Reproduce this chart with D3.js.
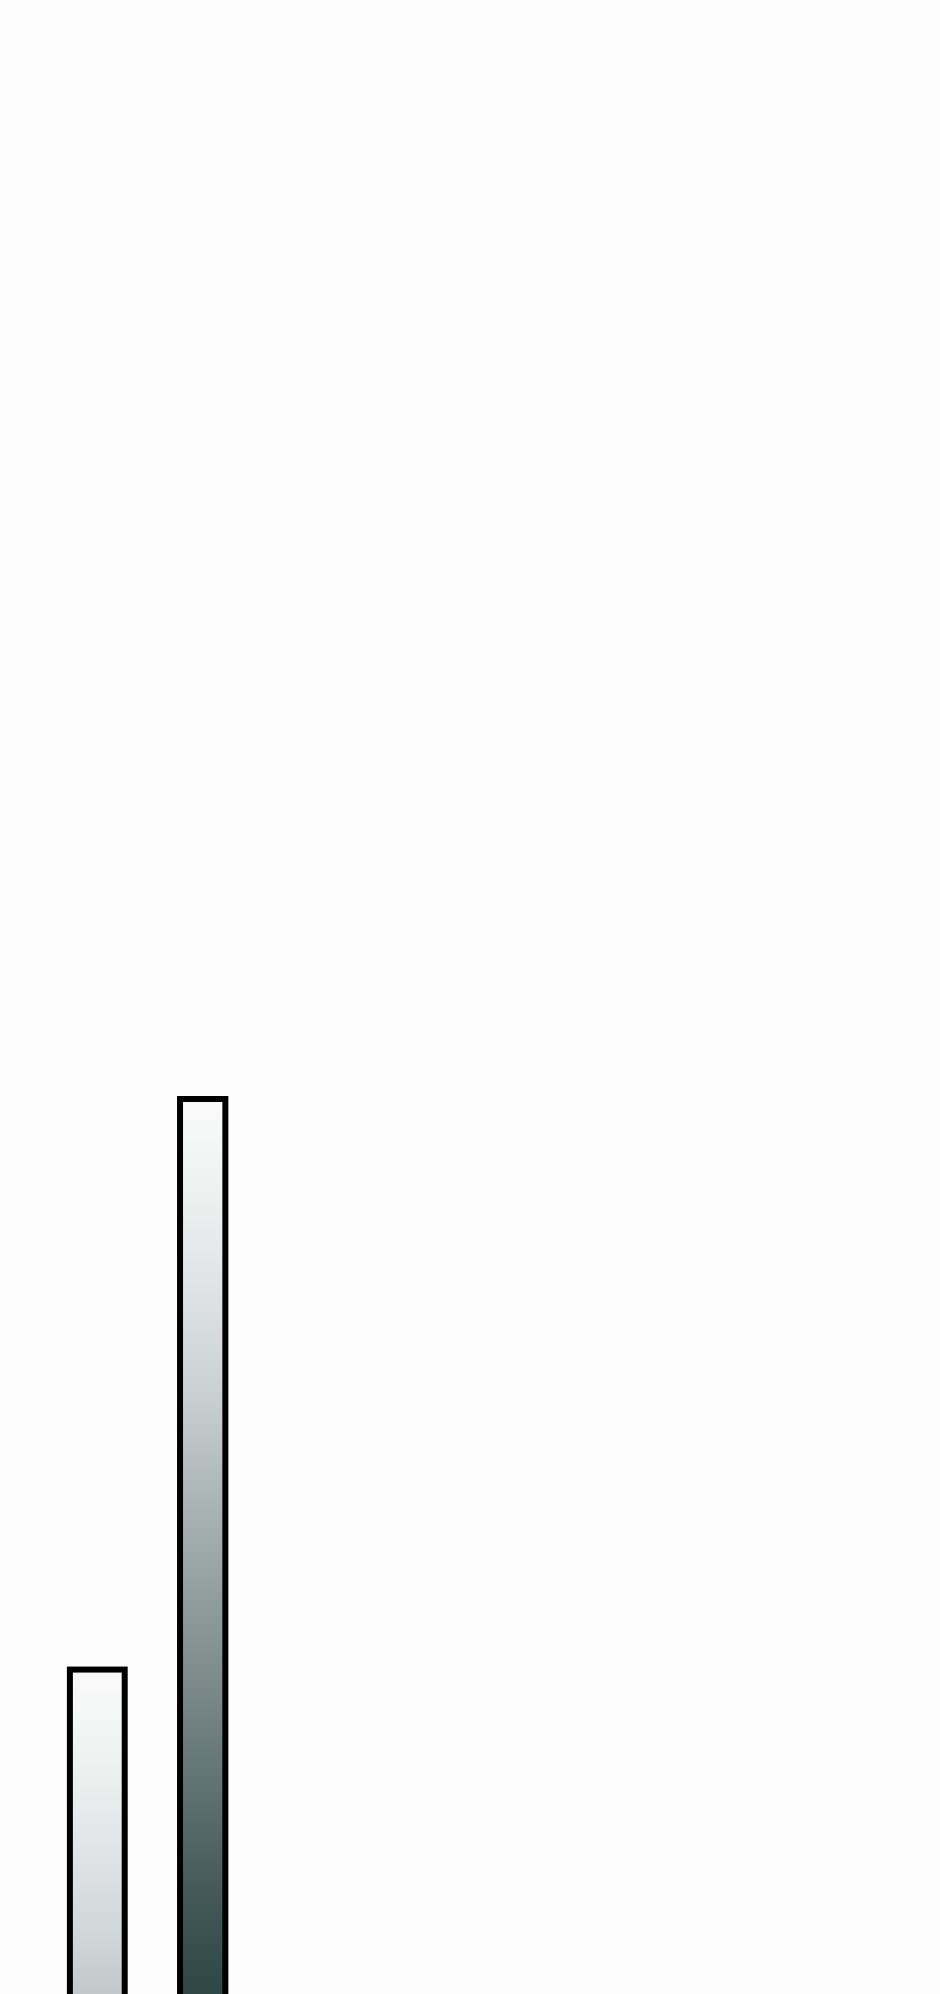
<!DOCTYPE html>
<html>
<head>
<meta charset="utf-8">
<script src="https://cdn.jsdelivr.net/npm/d3@7"></script>
<style>
  html, body { margin: 0; padding: 0; background: #fdfdfd; }
  svg { display: block; }
</style>
</head>
<body>
<div id="chart"></div>
<script>
// Data
const categories = ["Group A", "Group B"];
const values = [21.5, 50];
const barShare = [0.52, 0.43]; // share of the band each bar takes

// Gradient ramp, measured from each bar's top (distance, colour)
const rampSteps = [0, 92, 156, 282, 409, 536, 663, 790, 891];
const rampColors = ["#fafafa", "#eff1f1", "#e5e8e8", "#cdd3d3", "#a9b3b3",
                    "#889595", "#677878", "#465a5a", "#2f4747"];

const width = 940, height = 1994;

const svg = d3.select("#chart").append("svg")
  .attr("width", width)
  .attr("height", height);

svg.append("rect")
  .attr("width", width)
  .attr("height", height)
  .attr("fill", "#fdfdfd");

// Scales
const x = d3.scaleBand()
  .domain(categories)
  .range([44.6, 255.4])
  .padding(0);

// baseline sits below the visible page
const y = d3.scaleLinear()
  .domain([0, 50])
  .range([2100, 1099]);

const rampLength = d3.max(rampSteps);
const defs = svg.append("defs");

// One gradient per bar, anchored at the bar top
categories.forEach((c, i) => {
  const top = y(values[i]);
  const grad = defs.append("linearGradient")
    .attr("id", `grad-${i}`)
    .attr("gradientUnits", "userSpaceOnUse")
    .attr("x1", 0).attr("x2", 0)
    .attr("y1", top)
    .attr("y2", top + rampLength);
  rampSteps.forEach((s, j) => {
    grad.append("stop")
      .attr("offset", s / rampLength)
      .attr("stop-color", rampColors[j]);
  });
});

// Bars
svg.append("g")
  .selectAll("rect")
  .data(categories)
  .join("rect")
    .attr("x", (d, i) => x(d) + x.bandwidth() * (1 - barShare[i]) / 2)
    .attr("width", (d, i) => x.bandwidth() * barShare[i])
    .attr("y", (d, i) => y(values[i]))
    .attr("height", (d, i) => y(0) - y(values[i]))
    .attr("fill", (d, i) => `url(#grad-${i})`)
    .attr("stroke", "#000")
    .attr("stroke-width", 6);
</script>
</body>
</html>
